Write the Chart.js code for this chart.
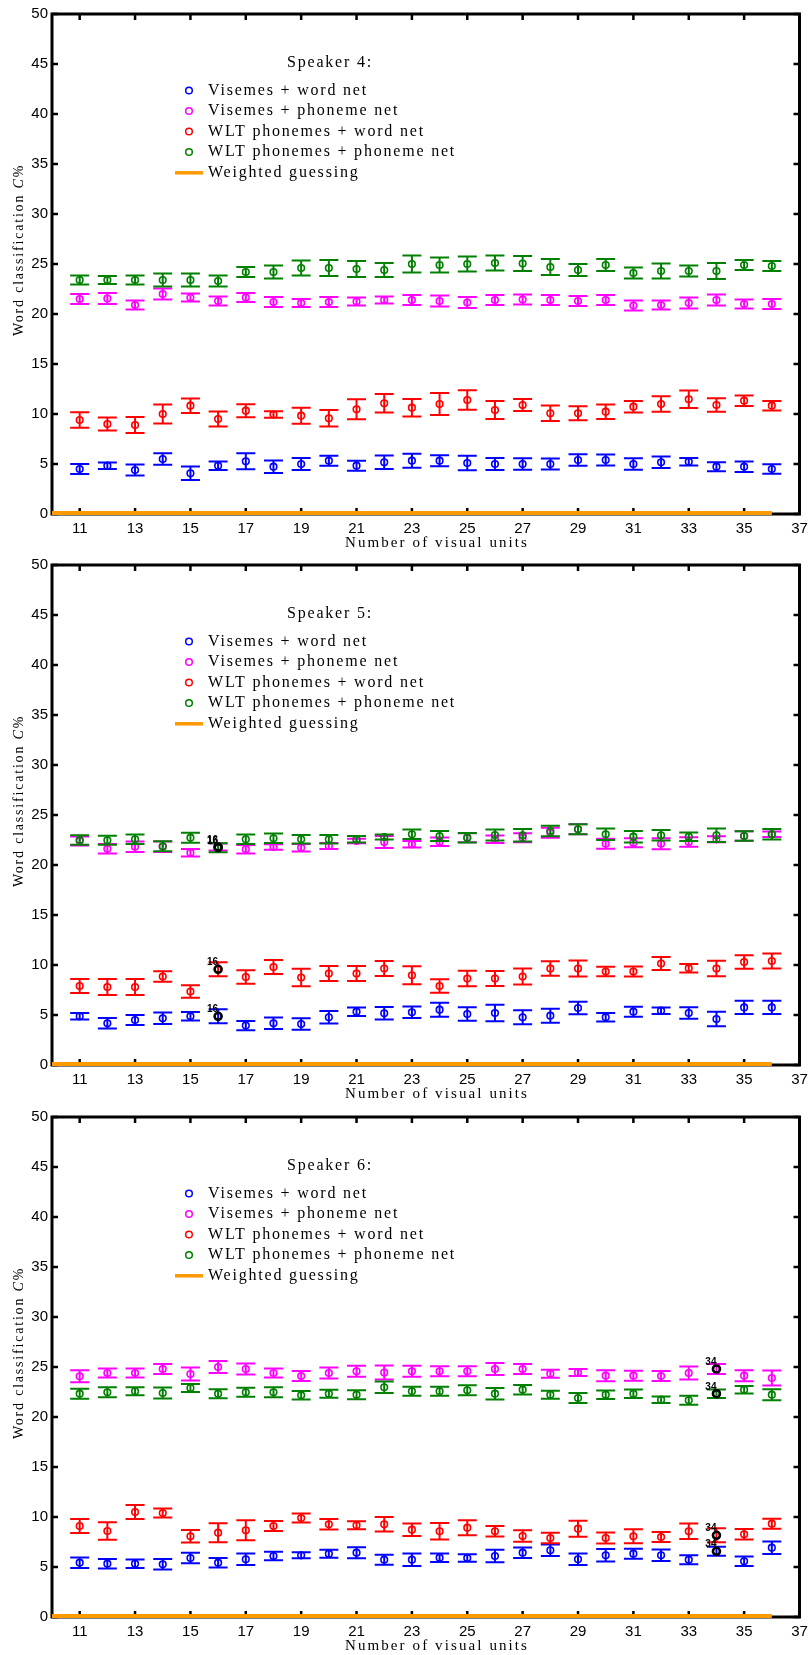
<!DOCTYPE html>
<html>
<head>
<meta charset="utf-8">
<script src="https://cdn.jsdelivr.net/npm/chart.js@4.4.1/dist/chart.umd.min.js"></script>
<style>
  html, body { margin: 0; padding: 0; background: #fff; }
  canvas { display: block; }
</style>
</head>
<body>
<canvas id="speaker-4" width="809" height="551"></canvas>
<canvas id="speaker-5" width="809" height="552"></canvas>
<canvas id="speaker-6" width="809" height="552"></canvas>
<script>
// x values shared by every series
const visualUnits = [11, 12, 13, 14, 15, 16, 17, 18, 19, 20, 21, 22, 23, 24, 25, 26, 27, 28, 29, 30, 31, 32, 33, 34, 35, 36];
const xTickValues = [11, 13, 15, 17, 19, 21, 23, 25, 27, 29, 31, 33, 35, 37];
const yTickValues = [0, 5, 10, 15, 20, 25, 30, 35, 40, 45, 50];

const seriesNames = ['Visemes + word net', 'Visemes + phoneme net', 'WLT phonemes + word net', 'WLT phonemes + phoneme net'];
const seriesColors = ['#0000ff', '#ff00ff', '#ff0000', '#008000'];
const guessingLabel = 'Weighted guessing';
const guessingColor = '#ff9900';
const guessingUnits = [10, 36];

// Speaker 4
const sp4VisWord = [4.5, 4.83, 4.4, 5.5, 4.07, 4.83, 5.27, 4.73, 5.0, 5.33, 4.83, 5.17, 5.33, 5.33, 5.1, 5.0, 5.0, 5.0, 5.4, 5.4, 5.0, 5.17, 5.23, 4.73, 4.73, 4.5];
const sp4VisWordErr = [0.5, 0.33, 0.55, 0.58, 0.67, 0.42, 0.8, 0.62, 0.6, 0.5, 0.5, 0.67, 0.7, 0.55, 0.72, 0.6, 0.57, 0.55, 0.58, 0.55, 0.58, 0.58, 0.38, 0.45, 0.53, 0.47];
const sp4VisPhon = [21.5, 21.55, 20.9, 22.0, 21.65, 21.3, 21.65, 21.2, 21.1, 21.2, 21.25, 21.4, 21.4, 21.3, 21.15, 21.4, 21.45, 21.4, 21.3, 21.4, 20.85, 20.9, 21.1, 21.4, 21.0, 21.0];
const sp4VisPhonErr = [0.5, 0.55, 0.45, 0.55, 0.4, 0.45, 0.45, 0.5, 0.4, 0.5, 0.4, 0.35, 0.5, 0.55, 0.55, 0.5, 0.5, 0.5, 0.5, 0.5, 0.5, 0.45, 0.55, 0.55, 0.45, 0.5];
const sp4WltWord = [9.4, 9.0, 8.9, 10.0, 10.83, 9.5, 10.33, 9.95, 9.83, 9.57, 10.47, 11.07, 10.63, 11.0, 11.4, 10.4, 10.9, 10.07, 10.07, 10.23, 10.73, 11.0, 11.47, 10.9, 11.33, 10.83];
const sp4WltWordErr = [0.77, 0.65, 0.8, 0.95, 0.72, 0.75, 0.65, 0.33, 0.8, 0.83, 1.0, 0.92, 0.88, 1.1, 0.97, 0.9, 0.6, 0.77, 0.7, 0.73, 0.58, 0.78, 0.87, 0.67, 0.52, 0.48];
const sp4WltPhon = [23.4, 23.4, 23.4, 23.4, 23.4, 23.3, 24.2, 24.2, 24.6, 24.6, 24.5, 24.4, 25.0, 24.9, 25.0, 25.1, 25.05, 24.7, 24.4, 24.9, 24.1, 24.3, 24.3, 24.3, 24.9, 24.8];
const sp4WltPhonErr = [0.45, 0.4, 0.45, 0.65, 0.65, 0.55, 0.5, 0.65, 0.75, 0.8, 0.8, 0.7, 0.85, 0.75, 0.75, 0.75, 0.75, 0.8, 0.6, 0.6, 0.55, 0.75, 0.55, 0.8, 0.5, 0.5];
const sp4Guessing = [0.1, 0.1];

// Speaker 5
const sp5VisWord = [4.87, 4.17, 4.5, 4.67, 4.87, 4.87, 3.94, 4.17, 4.1, 4.77, 5.33, 5.17, 5.27, 5.53, 5.1, 5.2, 4.77, 4.93, 5.7, 4.77, 5.33, 5.43, 5.2, 4.6, 5.76, 5.76];
const sp5VisWordErr = [0.33, 0.52, 0.5, 0.58, 0.42, 0.7, 0.47, 0.58, 0.58, 0.63, 0.42, 0.63, 0.57, 0.7, 0.67, 0.83, 0.7, 0.7, 0.62, 0.43, 0.5, 0.33, 0.58, 0.73, 0.67, 0.67];
const sp5VisPhon = [22.4, 21.63, 21.83, 21.83, 21.23, 21.8, 21.57, 21.8, 21.73, 21.9, 22.4, 22.3, 22.07, 22.33, 22.73, 22.57, 22.73, 23.23, 23.57, 22.13, 22.23, 22.13, 22.3, 22.57, 22.9, 23.07];
const sp5VisPhonErr = [0.45, 0.48, 0.53, 0.53, 0.37, 0.35, 0.42, 0.28, 0.38, 0.3, 0.23, 0.6, 0.33, 0.42, 0.45, 0.38, 0.45, 0.5, 0.5, 0.5, 0.45, 0.55, 0.48, 0.3, 0.47, 0.28];
const sp5WltWord = [7.9, 7.8, 7.8, 8.85, 7.35, 9.57, 8.8, 9.8, 8.75, 9.15, 9.15, 9.65, 8.97, 7.9, 8.65, 8.65, 8.85, 9.65, 9.65, 9.35, 9.35, 10.15, 9.67, 9.65, 10.3, 10.4];
const sp5WltWordErr = [0.7, 0.8, 0.8, 0.53, 0.62, 0.7, 0.67, 0.7, 0.87, 0.75, 0.75, 0.75, 0.9, 0.67, 0.78, 0.75, 0.8, 0.73, 0.8, 0.48, 0.5, 0.65, 0.42, 0.78, 0.67, 0.75];
const sp5WltPhon = [22.5, 22.47, 22.57, 21.87, 22.73, 21.73, 22.57, 22.67, 22.57, 22.57, 22.57, 22.8, 23.07, 22.9, 22.73, 23.0, 22.97, 23.4, 23.57, 23.07, 22.83, 22.97, 22.83, 22.97, 22.9, 23.07];
const sp5WltPhonErr = [0.48, 0.45, 0.47, 0.5, 0.5, 0.45, 0.48, 0.48, 0.42, 0.42, 0.33, 0.25, 0.47, 0.5, 0.48, 0.55, 0.62, 0.53, 0.5, 0.58, 0.58, 0.53, 0.42, 0.67, 0.47, 0.53];
const sp5Guessing = [0.1, 0.1];

// Speaker 6
const sp6VisWord = [5.43, 5.33, 5.33, 5.27, 5.9, 5.43, 5.77, 6.1, 6.17, 6.33, 6.43, 5.73, 5.73, 5.93, 5.9, 6.1, 6.43, 6.67, 5.77, 6.17, 6.33, 6.17, 5.73, 6.57, 5.57, 6.93];
const sp6VisWordErr = [0.53, 0.47, 0.42, 0.52, 0.53, 0.48, 0.58, 0.42, 0.3, 0.4, 0.55, 0.5, 0.62, 0.42, 0.38, 0.62, 0.52, 0.57, 0.58, 0.63, 0.5, 0.58, 0.45, 0.45, 0.47, 0.63];
const sp6VisPhon = [24.07, 24.4, 24.4, 24.8, 24.3, 25.0, 24.8, 24.4, 24.1, 24.4, 24.57, 24.45, 24.57, 24.57, 24.57, 24.8, 24.8, 24.33, 24.45, 24.13, 24.13, 24.1, 24.4, 24.8, 24.13, 23.9];
const sp6VisPhonErr = [0.6, 0.45, 0.45, 0.5, 0.65, 0.6, 0.55, 0.45, 0.5, 0.55, 0.55, 0.7, 0.55, 0.5, 0.5, 0.6, 0.5, 0.4, 0.35, 0.55, 0.5, 0.5, 0.65, 0.5, 0.55, 0.75];
const sp6WltWord = [9.1, 8.6, 10.5, 10.4, 8.07, 8.43, 8.67, 9.1, 9.9, 9.27, 9.17, 9.27, 8.73, 8.57, 8.93, 8.57, 8.1, 7.9, 8.83, 7.9, 8.07, 8.0, 8.57, 8.17, 8.27, 9.33];
const sp6WltWordErr = [0.7, 0.88, 0.7, 0.45, 0.63, 0.95, 1.0, 0.5, 0.45, 0.52, 0.4, 0.72, 0.62, 0.83, 0.75, 0.52, 0.58, 0.53, 0.8, 0.55, 0.7, 0.5, 0.78, 0.7, 0.53, 0.5];
const sp6WltPhon = [22.33, 22.47, 22.57, 22.4, 22.9, 22.33, 22.47, 22.47, 22.17, 22.33, 22.23, 22.97, 22.57, 22.57, 22.67, 22.33, 22.73, 22.23, 21.9, 22.23, 22.33, 21.73, 21.67, 22.33, 22.73, 22.23];
const sp6WltPhonErr = [0.5, 0.5, 0.4, 0.55, 0.4, 0.45, 0.45, 0.5, 0.42, 0.4, 0.45, 0.58, 0.45, 0.45, 0.5, 0.58, 0.47, 0.4, 0.5, 0.42, 0.42, 0.33, 0.45, 0.42, 0.37, 0.55];
const sp6Guessing = [0.1, 0.1];

const speakers = [
  {
    canvasId: 'speaker-4',
    title: 'Speaker 4:',
    means: [sp4VisWord, sp4VisPhon, sp4WltWord, sp4WltPhon],
    errors: [sp4VisWordErr, sp4VisPhonErr, sp4WltWordErr, sp4WltPhonErr],
    guessing: sp4Guessing,
    tipUnit: null,
  },
  {
    canvasId: 'speaker-5',
    title: 'Speaker 5:',
    means: [sp5VisWord, sp5VisPhon, sp5WltWord, sp5WltPhon],
    errors: [sp5VisWordErr, sp5VisPhonErr, sp5WltWordErr, sp5WltPhonErr],
    guessing: sp5Guessing,
    tipUnit: 16,
  },
  {
    canvasId: 'speaker-6',
    title: 'Speaker 6:',
    means: [sp6VisWord, sp6VisPhon, sp6WltWord, sp6WltPhon],
    errors: [sp6VisWordErr, sp6VisPhonErr, sp6WltWordErr, sp6WltPhonErr],
    guessing: sp6Guessing,
    tipUnit: 34,
  },
];

const PLOT_TOP = 14;
const PLOT_BOTTOM = 514;
const PLOT_LEFT = 52;
const PLOT_RIGHT_PAD = 9.5;
const SERIF = '"Liberation Serif", "Times New Roman", serif';
const SANS = '"Liberation Sans", Arial, sans-serif';

function drawSpaced(ctx, text, x, y, spacing) {
  ctx.letterSpacing = `${spacing}px`;
  ctx.fillText(text, x, y);
  ctx.letterSpacing = '0px';
}

// frame with inward ticks, like a MATLAB box axis
function drawFrame(chart) {
  const { ctx, chartArea, scales } = chart;
  const { left, right, top, bottom } = chartArea;
  const tick = 6;

  ctx.save();
  ctx.strokeStyle = '#000';
  ctx.lineWidth = 2.5;
  ctx.beginPath();
  xTickValues.forEach((v) => {
    const px = scales.x.getPixelForValue(v);
    ctx.moveTo(px, bottom);
    ctx.lineTo(px, bottom - tick);
    ctx.moveTo(px, top);
    ctx.lineTo(px, top + tick);
  });
  yTickValues.forEach((v) => {
    const py = scales.y.getPixelForValue(v);
    ctx.moveTo(left, py);
    ctx.lineTo(left + tick, py);
    ctx.moveTo(right, py);
    ctx.lineTo(right - tick, py);
  });
  ctx.stroke();

  ctx.lineWidth = 3;
  ctx.strokeRect(left, top, right - left, bottom - top);
  ctx.restore();
}

function drawErrorBars(chart, dataset) {
  const { ctx, scales } = chart;
  const cap = 9.5;

  ctx.save();
  ctx.strokeStyle = dataset.borderColor;
  ctx.lineWidth = 2;
  ctx.beginPath();
  dataset.data.forEach((point, i) => {
    const err = dataset.errorBars[i];
    const px = scales.x.getPixelForValue(point.x);
    const lo = scales.y.getPixelForValue(point.y - err);
    const hi = scales.y.getPixelForValue(point.y + err);
    ctx.moveTo(px, lo);
    ctx.lineTo(px, hi);
    ctx.moveTo(px - cap, lo);
    ctx.lineTo(px + cap, lo);
    ctx.moveTo(px - cap, hi);
    ctx.lineTo(px + cap, hi);
  });
  ctx.stroke();
  ctx.restore();
}

function drawTipLabels(chart, dataset) {
  const { ctx, scales } = chart;
  ctx.save();
  ctx.fillStyle = '#000';
  ctx.font = `bold 10px ${SANS}`;
  ctx.textAlign = 'right';
  ctx.textBaseline = 'alphabetic';
  dataset.data.forEach((point) => {
    const px = scales.x.getPixelForValue(point.x);
    const py = scales.y.getPixelForValue(point.y);
    ctx.fillText(String(point.x), px, py - 4);
  });
  ctx.restore();
}

function drawLegend(chart, title) {
  const { ctx } = chart;
  const rowY = [90.5, 111, 131.5, 152, 172.8];

  ctx.save();
  ctx.fillStyle = '#000';
  ctx.font = `16px ${SERIF}`;
  ctx.textBaseline = 'middle';
  ctx.textAlign = 'left';
  drawSpaced(ctx, title, 287, 63, 1.8);

  seriesNames.forEach((name, i) => {
    ctx.beginPath();
    ctx.strokeStyle = seriesColors[i];
    ctx.lineWidth = 1.5;
    ctx.arc(189, rowY[i], 3.3, 0, Math.PI * 2);
    ctx.stroke();
    drawSpaced(ctx, name, 208, rowY[i], 1.8);
  });

  ctx.beginPath();
  ctx.strokeStyle = guessingColor;
  ctx.lineWidth = 3.5;
  ctx.moveTo(175, rowY[4]);
  ctx.lineTo(203, rowY[4]);
  ctx.stroke();
  drawSpaced(ctx, guessingLabel, 208, rowY[4], 1.8);
  ctx.restore();
}

function drawAxisTitles(chart) {
  const { ctx, chartArea } = chart;

  ctx.save();
  ctx.fillStyle = '#000';
  ctx.textBaseline = 'middle';
  ctx.textAlign = 'center';
  ctx.font = `15px ${SERIF}`;
  drawSpaced(ctx, 'Number of visual units', 437, chartArea.bottom + 29, 2.1);

  // y title has an italic C, so draw it in pieces
  const parts = [
    { text: 'Word classification ', font: `14px ${SERIF}` },
    { text: 'C', font: `italic 14px ${SERIF}` },
    { text: '%', font: `14px ${SERIF}` },
  ];
  ctx.letterSpacing = '1.8px';
  const widths = parts.map((p) => {
    ctx.font = p.font;
    return ctx.measureText(p.text).width;
  });
  const total = widths.reduce((a, b) => a + b, 0);
  ctx.translate(19, 250);
  ctx.rotate(-Math.PI / 2);
  ctx.textAlign = 'left';
  let x = -total / 2;
  parts.forEach((p, i) => {
    ctx.font = p.font;
    ctx.fillText(p.text, x, 0);
    x += widths[i];
  });
  ctx.restore();
}

const matlabStyle = {
  id: 'matlabStyle',
  beforeDatasetsDraw(chart) {
    drawFrame(chart);
  },
  beforeDatasetDraw(chart, args) {
    const dataset = chart.data.datasets[args.index];
    if (dataset.errorBars) {
      drawErrorBars(chart, dataset);
    }
  },
  afterDatasetsDraw(chart) {
    chart.data.datasets.forEach((dataset) => {
      if (dataset.isTip) {
        drawTipLabels(chart, dataset);
      }
    });
  },
  afterDraw(chart, args, options) {
    drawLegend(chart, options.title);
    drawAxisTitles(chart);
  },
};

function buildDatasets(speaker) {
  const datasets = speaker.means.map((means, i) => ({
    label: seriesNames[i],
    data: visualUnits.map((unit, k) => ({ x: unit, y: means[k] })),
    errorBars: speaker.errors[i],
    borderColor: seriesColors[i],
    backgroundColor: 'rgba(0, 0, 0, 0)',
    pointStyle: 'circle',
    pointRadius: 3.3,
    pointBorderWidth: 1.6,
    pointHoverRadius: 3.3,
    showLine: false,
    order: 5 - i,
  }));

  datasets.push({
    type: 'line',
    label: guessingLabel,
    data: guessingUnits.map((unit, k) => ({ x: unit, y: speaker.guessing[k] })),
    borderColor: guessingColor,
    borderWidth: 4,
    pointRadius: 0,
    showLine: true,
    clip: false,
    order: 1,
  });

  if (speaker.tipUnit !== null) {
    const k = visualUnits.indexOf(speaker.tipUnit);
    datasets.push({
      label: 'tips',
      isTip: true,
      data: speaker.means.map((means) => ({ x: speaker.tipUnit, y: means[k] })),
      borderColor: '#000',
      backgroundColor: 'rgba(0, 0, 0, 0)',
      pointRadius: 3.5,
      pointBorderWidth: 2.6,
      showLine: false,
      order: 0,
    });
  }

  return datasets;
}

function buildChart(speaker) {
  const canvas = document.getElementById(speaker.canvasId);

  return new Chart(canvas, {
    type: 'scatter',
    data: { datasets: buildDatasets(speaker) },
    options: {
      responsive: false,
      animation: false,
      events: [],
      layout: {
        padding: { top: PLOT_TOP, right: PLOT_RIGHT_PAD, left: 0, bottom: 0 },
      },
      plugins: {
        legend: { display: false },
        tooltip: { enabled: false },
        matlabStyle: { title: speaker.title },
      },
      scales: {
        x: {
          type: 'linear',
          min: 10,
          max: 37,
          afterBuildTicks(scale) {
            scale.ticks = xTickValues.map((value) => ({ value }));
          },
          afterFit(scale) {
            scale.height = scale.chart.height - PLOT_BOTTOM;
            scale.paddingLeft = 0;
            scale.paddingRight = 0;
          },
          grid: { display: false, drawTicks: false },
          border: { display: false },
          ticks: {
            color: '#000',
            padding: 6,
            maxRotation: 0,
            autoSkip: false,
            font: { family: SANS, size: 15 },
          },
        },
        y: {
          type: 'linear',
          min: 0,
          max: 50,
          afterBuildTicks(scale) {
            scale.ticks = yTickValues.map((value) => ({ value }));
          },
          afterFit(scale) {
            scale.width = PLOT_LEFT;
            scale.paddingTop = 0;
            scale.paddingBottom = 0;
          },
          grid: { display: false, drawTicks: false },
          border: { display: false },
          ticks: {
            color: '#000',
            padding: 4,
            font: { family: SANS, size: 15 },
          },
        },
      },
    },
    plugins: [matlabStyle],
  });
}

speakers.forEach(buildChart);
</script>
</body>
</html>
